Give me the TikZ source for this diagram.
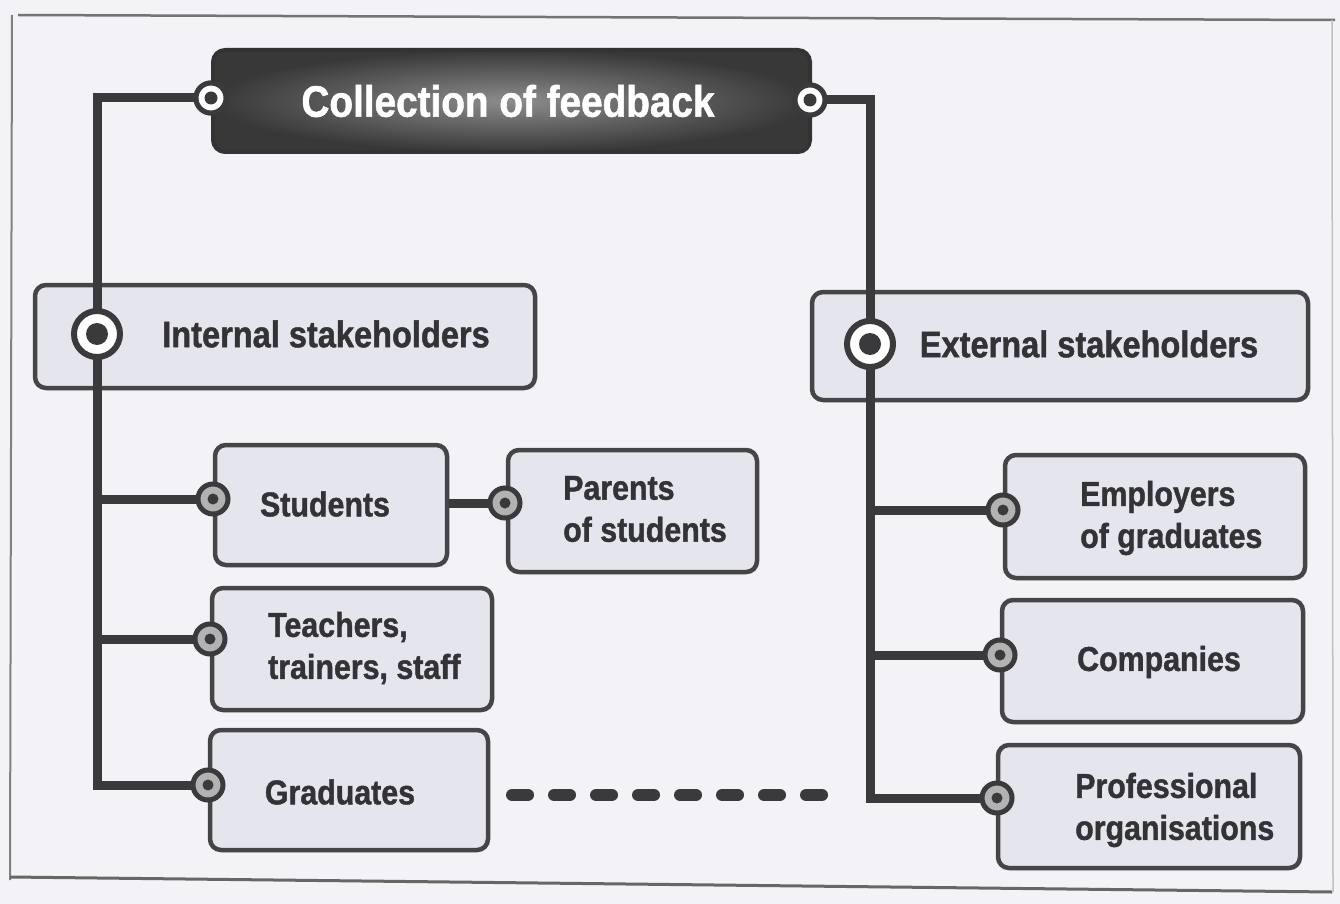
\documentclass[tikz,border=0pt]{standalone}
\usepackage{fontspec}
\setmainfont{Liberation Sans}[FakeStretch=0.88, BoldFeatures={FakeBold=1.2}]
\usetikzlibrary{shadows}
\definecolor{bgc}{HTML}{F3F3F7}
\definecolor{boxfill}{HTML}{E5E5EE}
\definecolor{boxline}{HTML}{454548}
\definecolor{conncol}{HTML}{3A3A3C}
\definecolor{txtcol}{HTML}{333336}
\tikzset{
  stakebox/.style={draw=boxline, line width=4.5pt, rounded corners=11pt, fill=boxfill,
    drop shadow={shadow xshift=1.5pt, shadow yshift=-2pt, opacity=0.45}, inner sep=0pt},
  titlebox/.style={draw=black!80, line width=4pt, rounded corners=12pt,
    inner color=black!45, outer color=black!78, inner sep=0pt},
  conn/.style={draw=conncol, line width=9pt},
  dashconn/.style={draw=conncol, line width=12pt, line cap=round, dash pattern=on 16pt off 26pt},
  lbl/.style={text=txtcol, font=\fontsize{34.5}{42}\selectfont\bfseries, inner sep=0pt},
  biglbl/.style={text=txtcol, font=\fontsize{37}{42}\selectfont\bfseries, inner sep=0pt},
  smallring/.style={circle, draw=conncol, line width=5pt, fill=black!30, minimum size=30pt, inner sep=0pt},
  bigring/.style={circle, draw=conncol, line width=6pt, fill=white, minimum size=46pt, inner sep=0pt},
  core/.style={circle, fill=conncol, inner sep=0pt},
}
\begin{document}
\begin{tikzpicture}[x=1pt,y=-1pt]
\useasboundingbox (0,0) rectangle (1340,904);
\fill[bgc] (0,0) rectangle (1340,904);
% frame
\draw[black!55, line width=2.5pt] (18,15) -- (1335,20);
\draw[black!50, line width=2pt] (12,15) -- (10,880);
\draw[black!60, line width=3pt] (10,877) -- (1332,892);
\draw[black!25, line width=1.5pt] (1332,20) -- (1333,892);

% boxes
\node[titlebox, minimum width=597pt, minimum height=102pt] (title) at (511.5,101) {};
\node[text=white, font=\fontsize{44}{50}\selectfont\bfseries, inner sep=0pt] (titletxt) at (508,101) {Collection of feedback};

\node[stakebox, minimum width=500pt, minimum height=103pt] (internal) at (285,336.5) {};
\node[stakebox, minimum width=496pt, minimum height=108pt] (external) at (1060,346) {};
\node[stakebox, minimum width=232pt, minimum height=120pt] (students) at (331,505) {};
\node[stakebox, minimum width=249pt, minimum height=122pt] (parents) at (632.5,511) {};
\node[stakebox, minimum width=280pt, minimum height=122pt] (teachers) at (352,649) {};
\node[stakebox, minimum width=278pt, minimum height=120pt] (graduates) at (349,790) {};
\node[stakebox, minimum width=300pt, minimum height=123pt] (employers) at (1155,516.5) {};
\node[stakebox, minimum width=301pt, minimum height=122pt] (companies) at (1152.5,661) {};
\node[stakebox, minimum width=302pt, minimum height=123pt] (professional) at (1149,806.5) {};

% labels
\node[biglbl] (tint) at (326,334) {Internal stakeholders};
\node[biglbl] (text) at (1089,344) {External stakeholders};
\node[lbl] (tstu) at (325,504) {Students};
\node[lbl, anchor=west, align=left] (tpar) at (563,509) {Parents\\of students};
\node[lbl, anchor=west, align=left] (ttea) at (268,648) {Teachers,\\trainers, staff};
\node[lbl] (tgra) at (340,792) {Graduates};
\node[lbl, anchor=west, align=left] (temp) at (1080,518) {Employers\\of graduates};
\node[lbl] (tcom) at (1159,662) {Companies};
\node[lbl, anchor=west, align=left] (tpro) at (1075,810) {Professional\\organisations};

% connection points
\coordinate (cTL) at (211,98);
\coordinate (cTR) at (810,100);
\coordinate (cI) at (97,334);
\coordinate (cE) at (870,344);
\coordinate (cS) at (213,499);
\coordinate (cP) at (505,503);
\coordinate (cT) at (210,639);
\coordinate (cG) at (208,785);
\coordinate (cEm) at (1003,510);
\coordinate (cC) at (1000,655);
\coordinate (cPr) at (997,798);
\coordinate (dashstart) at (512,795);
\coordinate (dashend) at (845,795);

% connectors
\draw[conn] (cTL) -| (cI);
\draw[conn] (cI) |- (cG);
\draw[conn] (cI |- cS) -- (cS);
\draw[conn] (cI |- cT) -- (cT);
\draw[conn] (students.east |- cP) -- (cP);
\draw[conn] (cTR) -| (cE);
\draw[conn] (cE) |- (cPr);
\draw[conn] (cE |- cEm) -- (cEm);
\draw[conn] (cE |- cC) -- (cC);
\draw[dashconn] (dashstart) -- (dashend);

% rings
\foreach \c/\n in {cTL/rTL, cTR/rTR, cS/rS, cP/rP, cT/rT, cG/rG, cEm/rEm, cC/rC, cPr/rPr}{
  \node[smallring] (\n) at (\c) {};
  \node[core, minimum size=11pt] (\n core) at (\c) {};
}
\node[smallring, fill=white] (rTLw) at (cTL) {};
\node[core, minimum size=13pt] (rTLc) at (cTL) {};
\node[smallring, fill=white] (rTRw) at (cTR) {};
\node[core, minimum size=13pt] (rTRc) at (cTR) {};
\node[bigring] (rI) at (cI) {};
\node[core, minimum size=22pt] (rIc) at (cI) {};
\node[bigring] (rE) at (cE) {};
\node[core, minimum size=22pt] (rEc) at (cE) {};
\end{tikzpicture}
\end{document}
